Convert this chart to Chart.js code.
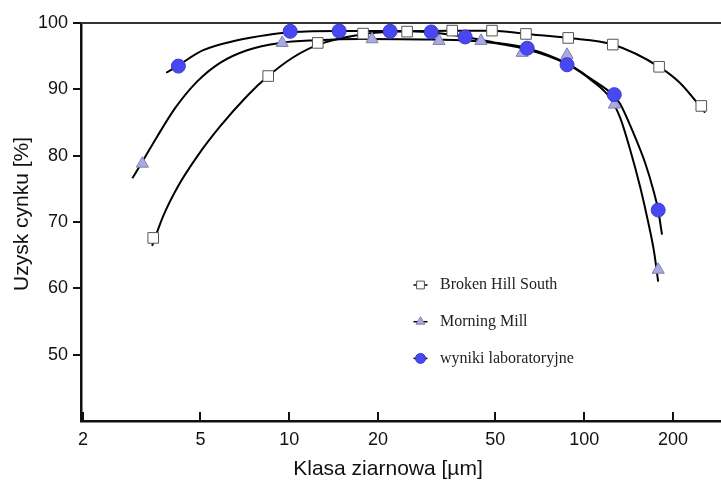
<!DOCTYPE html>
<html lang="pl">
<head>
<meta charset="utf-8">
<title>Uzysk cynku a klasa ziarnowa</title>
<script src="https://cdn.jsdelivr.net/npm/chart.js@4.4.1/dist/chart.umd.min.js"></script>
<style>
  html, body { margin: 0; padding: 0; background: #fff; }
  #wrap { width: 721px; height: 480px; }
</style>
</head>
<body>
<div id="wrap"><canvas id="chart" width="721" height="480"></canvas></div>
<script>
// Measured points: grain size class [um] and zinc recovery [%]
const bhsSize     = [3.46, 8.49, 12.5, 17.8, 25.1, 35.7, 48.7, 63.5, 88.3, 125, 179.5, 249.5];
const bhsRecovery = [67.6, 92.0, 97.0, 98.4, 98.7, 98.85, 98.85, 98.35, 97.75, 96.75, 93.4, 87.5];

const mmSize      = [3.18, 9.47, 19.1, 32.2, 44.7, 61.6, 87.5, 126.5, 178.2];
const mmRecovery  = [78.8, 97.0, 97.55, 97.3, 97.3, 95.5, 95.2, 87.7, 62.8];

const labSize     = [4.21, 10.08, 14.77, 21.99, 30.3, 39.5, 64.1, 87.5, 126.5, 178.2];
const labRecovery = [93.5, 98.75, 98.8, 98.75, 98.65, 97.9, 96.2, 93.7, 89.2, 71.8];

// Fitted trend curves
const bhsCurveSize = [3.43, 3.74, 4.2, 4.88, 5.83, 7.2, 8.49, 10.3, 12.5, 17.8, 25.1, 35.7, 48.7, 63.5, 88.3, 125, 179.5, 211, 257];
const bhsCurveRec  = [66.4, 70.9, 75.4, 79.9, 84.4, 89.0, 92.0, 94.8, 96.7, 98.3, 98.75, 98.85, 98.85, 98.35, 97.75, 96.75, 93.4, 91.0, 86.5];

const mmCurveSize  = [2.94, 3.17, 3.57, 4.11, 4.88, 5.83, 7.2, 9.32, 12.4, 17.4, 30.1, 44.7, 64.1, 87.5, 107, 122.4, 132.5, 143.2, 155, 164.8, 172.6, 178.2];
const mmCurveRec   = [76.6, 79.0, 82.9, 87.2, 91.2, 94.0, 95.9, 97.0, 97.4, 97.6, 97.5, 97.2, 96.0, 93.8, 91.2, 88.7, 85.7, 80.9, 75.2, 70.0, 65.5, 61.0];

const labCurveSize = [3.83, 4.17, 5.11, 6.67, 8.42, 10.1, 14.8, 22, 30.1, 39.5, 49.1, 64.1, 87.5, 107, 126.5, 132.5, 146.6, 161, 171.4, 178.2, 183.6];
const labCurveRec  = [92.5, 93.5, 95.9, 97.4, 98.2, 98.6, 98.8, 98.8, 98.6, 97.9, 97.1, 96.2, 93.9, 91.4, 89.0, 87.8, 83.5, 78.9, 74.9, 71.8, 68.1];

const xTicks = [2, 5, 10, 20, 50, 100, 200];
const yTicks = [50, 60, 70, 80, 90, 100];

const seriesNames = ['Broken Hill South', 'Morning Mill', 'wyniki laboratoryjne'];

const toPoints = (xs, ys) => xs.map((x, i) => ({ x: x, y: ys[i] }));

const sansFont = 'Liberation Sans, Arial, sans-serif';
const serifFont = 'Liberation Serif, Times New Roman, serif';

function curve(xs, ys) {
    return {
        data: toPoints(xs, ys),
        showLine: true,
        pointRadius: 0,
        borderColor: '#000',
        borderWidth: 2,
        cubicInterpolationMode: 'monotone',
        order: 5
    };
}

// Frame: top border line and the inward ticks on the bottom axis
const frameLines = {
    id: 'frameLines',
    afterDraw(chart) {
        const { ctx, chartArea, scales } = chart;
        ctx.save();
        ctx.strokeStyle = '#333';
        ctx.lineWidth = 2;
        ctx.beginPath();
        ctx.moveTo(chartArea.left, chartArea.top);
        ctx.lineTo(chartArea.right, chartArea.top);
        ctx.stroke();

        ctx.strokeStyle = '#111';
        ctx.lineWidth = 2;
        xTicks.forEach(v => {
            const px = Math.round(scales.x.getPixelForValue(v));
            ctx.beginPath();
            ctx.moveTo(px, chartArea.bottom);
            ctx.lineTo(px, chartArea.bottom - 9);
            ctx.stroke();
        });
        ctx.restore();
    }
};

const axisTitles = {
    id: 'axisTitles',
    afterDraw(chart) {
        const { ctx } = chart;
        ctx.save();
        ctx.fillStyle = '#111';
        ctx.font = '21px ' + sansFont;
        ctx.textAlign = 'center';
        ctx.textBaseline = 'middle';
        ctx.fillText('Klasa ziarnowa [\u00b5m]', 388, 469);
        ctx.translate(22, 214);
        ctx.rotate(-Math.PI / 2);
        ctx.fillText('Uzysk cynku [%]', 0, 0);
        ctx.restore();
    }
};

// Legend drawn inside the plot area
const innerLegend = {
    id: 'innerLegend',
    afterDraw(chart) {
        const { ctx, chartArea } = chart;
        const mx = chartArea.left + 339.5;
        const ds = chart.data.datasets;
        ctx.save();
        seriesNames.forEach((name, i) => {
            const set = ds.find(d => d.label === name);
            const y = chartArea.top + 262 + i * 36.7;
            ctx.strokeStyle = '#000';
            ctx.lineWidth = 1.5;
            ctx.beginPath();
            ctx.moveTo(mx - 7, y);
            ctx.lineTo(mx + 7, y);
            ctx.stroke();

            ctx.fillStyle = set.backgroundColor;
            ctx.strokeStyle = set.borderColor;
            ctx.lineWidth = set.borderWidth;
            Chart.helpers.drawPoint(ctx, {
                pointStyle: set.pointStyle,
                radius: set.legendRadius,
                borderWidth: set.borderWidth,
                rotation: 0
            }, mx, y);

            ctx.fillStyle = '#222';
            ctx.font = '16px ' + serifFont;
            ctx.textAlign = 'left';
            ctx.textBaseline = 'middle';
            ctx.fillText(name, chartArea.left + 359, y);
        });
        ctx.restore();
    }
};

new Chart(document.getElementById('chart'), {
    type: 'scatter',
    data: {
        datasets: [
            {
                label: 'wyniki laboratoryjne',
                data: toPoints(labSize, labRecovery),
                pointStyle: 'circle',
                pointRadius: 7,
                legendRadius: 5,
                backgroundColor: '#4848f0',
                borderColor: '#3a3ad6',
                borderWidth: 1,
                order: 0
            },
            {
                label: 'Morning Mill',
                data: toPoints(mmSize, mmRecovery),
                pointStyle: 'triangle',
                pointRadius: 7,
                legendRadius: 5,
                backgroundColor: '#a9a9e4',
                borderColor: '#8080b0',
                borderWidth: 1,
                order: 1
            },
            {
                label: 'Broken Hill South',
                data: toPoints(bhsSize, bhsRecovery),
                pointStyle: 'rect',
                pointRadius: 7.5,
                legendRadius: 5.5,
                backgroundColor: '#fff',
                borderColor: '#555',
                borderWidth: 1,
                order: 2
            },
            curve(labCurveSize, labCurveRec),
            curve(mmCurveSize, mmCurveRec),
            curve(bhsCurveSize, bhsCurveRec)
        ]
    },
    options: {
        responsive: false,
        animation: false,
        events: [],
        layout: {
            autoPadding: false,
            padding: { top: 23, right: 0, bottom: 0, left: 0 }
        },
        plugins: {
            legend: { display: false },
            tooltip: { enabled: false }
        },
        scales: {
            x: {
                type: 'logarithmic',
                bounds: 'data',
                min: 1.969,
                max: 291,
                afterBuildTicks: s => { s.ticks = xTicks.map(v => ({ value: v })); },
                afterFit: s => {
                    s.height = 59;
                    s.paddingLeft = 0;
                    s.paddingRight = 0;
                },
                ticks: {
                    color: '#111',
                    font: { family: sansFont, size: 18 },
                    padding: 8,
                    maxRotation: 0,
                    autoSkip: false,
                    callback: v => String(v)
                },
                grid: { drawOnChartArea: false, drawTicks: false },
                border: { display: true, color: '#111', width: 2.5 }
            },
            y: {
                min: 40,
                max: 100,
                afterBuildTicks: s => { s.ticks = yTicks.map(v => ({ value: v })); },
                afterFit: s => {
                    s.width = 81;
                    s.paddingTop = 0;
                    s.paddingBottom = 0;
                },
                ticks: {
                    color: '#111',
                    font: { family: sansFont, size: 18 },
                    padding: 5
                },
                grid: { drawOnChartArea: false, tickLength: 8, color: '#111', lineWidth: 2 },
                border: { display: true, color: '#111', width: 2.5 }
            }
        }
    },
    plugins: [frameLines, axisTitles, innerLegend]
});
</script>
</body>
</html>
